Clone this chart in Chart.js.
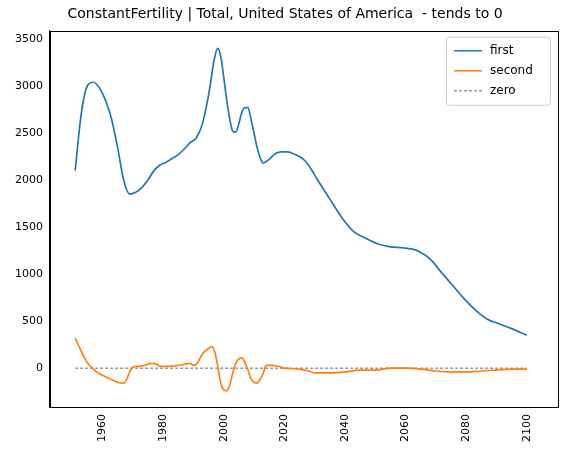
<!DOCTYPE html><html><head><script src="https://cdn.jsdelivr.net/npm/chart.js@4"></script>
<style>body{margin:0;background:#fff}#w{width:574px;height:455px}</style></head><body><div id="w"><canvas id="c"></canvas></div>
<script>
const firstYears=[1951,1953,1955,1957,1959,1961,1963,1965,1967,1969,1971,1973,1975,1977,1979,1981,1983,1985,1987,1989,1991,1993,1995,1997,1998,1999,2000,2001,2002,2003,2004,2005,2006,2007,2008,2009,2010,2011,2012,2013,2015,2017,2019,2021,2023,2025,2027,2029,2031,2035,2039,2043,2047,2051,2055,2059,2063,2065,2067,2069,2071,2075,2079,2083,2087,2091,2095,2100];
const firstVals=[2100,2700,3000,3040,2980,2850,2650,2350,2000,1850,1870,1920,2000,2100,2160,2190,2230,2270,2330,2400,2450,2600,2900,3300,3400,3320,3100,2850,2650,2520,2510,2600,2720,2770,2770,2650,2500,2350,2240,2180,2220,2280,2300,2300,2280,2250,2200,2110,2000,1800,1600,1450,1380,1320,1290,1280,1260,1230,1190,1130,1050,900,750,620,520,470,420,350];
const secondYears=[1951,1953,1955,1957,1959,1961,1963,1965,1967,1968,1969,1970,1972,1974,1976,1978,1979,1981,1985,1989,1990,1991,1993,1995,1996,1997,1998,1999,2000,2001,2002,2003,2004,2005,2006,2007,2008,2009,2010,2011,2012,2013,2014,2016,2018,2020,2025,2028,2030,2035,2040,2045,2050,2055,2060,2065,2070,2075,2080,2085,2090,2095,2100];
const secondVals=[320,180,60,-10,-60,-90,-120,-150,-160,-120,-40,10,20,30,50,40,20,20,30,50,30,40,150,210,230,180,30,-150,-230,-240,-180,-50,50,100,110,60,-20,-110,-150,-160,-120,-60,30,30,20,0,-10,-30,-50,-50,-40,-20,-20,0,0,-10,-30,-40,-40,-30,-20,-10,-10];
const zeroYears=[1951,2100];const zeroVals=[0,0];
const xTicks=[1960,1980,2000,2020,2040,2060,2080,2100];
const yTicks=[0,500,1000,1500,2000,2500,3000,3500];
const pts=(xs,ys)=>xs.map((x,i)=>({x,y:ys[i]}));
const legendPlugin={id:'lg',afterDraw(ch){const c=ch.ctx,a=ch.chartArea;
c.save();c.strokeStyle='#000';c.lineWidth=1;c.strokeRect(Math.round(a.left)+.5,Math.round(a.top)+.5,Math.round(a.width),Math.round(a.height));
const x0=a.right-112,y0=a.top+6,w=104,h=68;
c.fillStyle='rgba(255,255,255,0.8)';c.strokeStyle='#ccc';c.beginPath();c.roundRect(x0+.5,y0+.5,w,h,3);c.fill();c.stroke();
const items=[['first','#1f77b4',1.5,[]],['second','#ff7f0e',1.5,[]],['zero','#000',0.6,[3,2]]];
c.font='12px "DejaVu Sans"';c.textBaseline='middle';
items.forEach((it,i)=>{const y=y0+14+i*20;c.strokeStyle=it[1];c.lineWidth=it[2];c.setLineDash(it[3]);c.beginPath();c.moveTo(x0+8,y);c.lineTo(x0+36,y);c.stroke();c.setLineDash([]);c.fillStyle='#000';c.fillText(it[0],x0+44,y);});
c.restore();}};
new Chart(document.getElementById('c'),{type:'line',data:{datasets:[
{label:'first',data:pts(firstYears,firstVals),borderColor:'#1f77b4',borderWidth:1.7,pointRadius:0,cubicInterpolationMode:'monotone'},
{label:'second',data:pts(secondYears,secondVals),borderColor:'#ff7f0e',borderWidth:1.7,pointRadius:0,cubicInterpolationMode:'monotone'},
{label:'zero',data:pts(zeroYears,zeroVals),borderColor:'#000',borderWidth:0.6,borderDash:[3,2],pointRadius:0}]},
options:{responsive:true,maintainAspectRatio:false,animation:false,layout:{padding:{left:12,right:16,top:2,bottom:10}},
plugins:{legend:{display:false},tooltip:{enabled:false},title:{display:true,text:'ConstantFertility | Total, United States of America  - tends to 0',color:'#000',font:{family:'DejaVu Sans',size:14,weight:'normal'},padding:{top:4,bottom:8}}},
scales:{x:{type:'linear',min:1942.7,max:2110.3,border:{color:'#000'},afterBuildTicks(s){s.ticks=xTicks.map(v=>({value:v}));},ticks:{color:'#000',font:{family:'DejaVu Sans',size:11},maxRotation:90,minRotation:90,callback:v=>String(v)},grid:{display:false,drawTicks:true,tickLength:4,tickColor:'#000'}},
y:{min:-413,max:3587,border:{color:'#000'},afterBuildTicks(s){s.ticks=yTicks.map(v=>({value:v}));},ticks:{color:'#000',font:{family:'DejaVu Sans',size:11},callback:v=>String(v)},grid:{display:false,drawTicks:true,tickLength:4,tickColor:'#000'}}}},plugins:[legendPlugin]});
</script></body></html>
